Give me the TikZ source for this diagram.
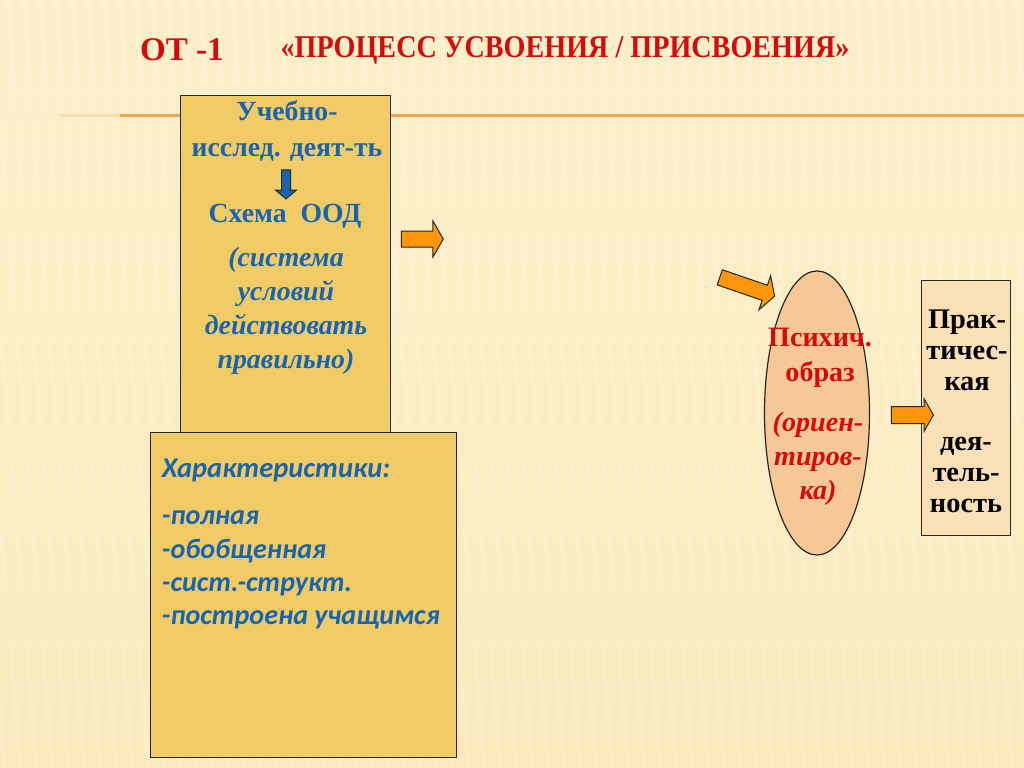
\documentclass[tikz,border=0pt]{standalone}
\usepackage{fontspec}
\setmainfont{Liberation Serif}
\newfontfamily\calfont{Carlito}
\usetikzlibrary{shapes,shapes.arrows}

\definecolor{bgtop}{RGB}{252,239,200}
\definecolor{bgmid}{RGB}{248,226,163}
\definecolor{bgbot}{RGB}{250,234,190}
\definecolor{titlered}{RGB}{215,10,10}
\definecolor{textblue}{RGB}{25,100,175}
\definecolor{boxgold}{RGB}{241,204,102}
\definecolor{boxpeach}{RGB}{250,224,182}
\definecolor{ovalpeach}{RGB}{246,200,150}
\definecolor{arroworange}{RGB}{253,150,10}
\definecolor{lineorange}{RGB}{236,168,70}

\begin{document}
\begin{tikzpicture}[x=0.25mm, y=-0.25mm,
  box/.style={draw=black!85, line width=0.35mm, inner sep=0, anchor=north west},
  block arrow/.style={single arrow, draw=black!85, fill=arroworange, line width=0.25mm, inner xsep=0, single arrow tip angle=120},
  blue text/.style={text=textblue, align=center, font=\bfseries\fontsize{19.7}{25.6}\selectfont},
  red text/.style={text=titlered, align=center, font=\bfseries\fontsize{20}{24.9}\selectfont},
  black text/.style={text=black, align=center, font=\bfseries\fontsize{20.2}{22}\selectfont}]
\useasboundingbox (0,0) rectangle (1024,767);
\shade[top color=bgtop, middle color=bgmid, bottom color=bgbot] (0,0) rectangle (1024,767);
\foreach \s in {-120,-104,...,1100}
  \draw[white, opacity=0.16, line width=1.2mm] (\s,0) .. controls (\s+20,300) and (\s+40,500) .. (\s+60,767);
\draw[lineorange!40, line width=0.75mm] (60,116) -- (120,116);
\draw[lineorange, line width=0.75mm] (120,116) -- (1024,116);

% title
\node[text=titlered, font=\bfseries\fontsize{23.5}{28}\selectfont] (ot) at (182,50) {ОТ -1};
\node[text=titlered, font=\bfseries\fontsize{22.5}{26}\selectfont] (title) at (565,50) {\scalebox{0.89}[1]{«ПРОЦЕСС УСВОЕНИЯ / ПРИСВОЕНИЯ»}};

% left boxes
\node[box, fill=boxgold, minimum width=52.5mm, minimum height=84.25mm] (ood) at (180,95) {};
\node[box, fill=boxgold, minimum width=76.5mm, minimum height=81.25mm] (char) at (150,432) {};
\node[blue text] (uid) at (287,131) {Учебно-\\исслед. деят-ть};
\node[block arrow, fill=textblue, inner ysep=1mm, minimum height=7.25mm, minimum width=5mm, single arrow head extend=1.5mm, single arrow tip angle=100, rotate=-90] (down) at (286,182.5) {};
\node[blue text] (schema) at (285,216) {Схема\ \ ООД};
\node[blue text, font=\bfseries\itshape\fontsize{19.8}{24.2}\selectfont] (cond) at (286,311) {(система\\условий\\действовать\\правильно)};
\node[anchor=west, text=textblue, font=\calfont\bfseries\itshape\fontsize{20.3}{23}\selectfont] (chhead) at (157,470) {Характеристики:};
\node[anchor=west, text=textblue, align=left, font=\calfont\bfseries\itshape\fontsize{20}{23.7}\selectfont] (chlist) at (157,570) {-полная\\-обобщенная\\-сист.-структ.\\-построена учащимся};

% arrows
\node[block arrow, inner ysep=1.875mm, minimum height=10.5mm, minimum width=8.75mm, single arrow head extend=2.5mm] (a1) at (420,239) {};
\node[block arrow, inner ysep=1.875mm, minimum height=14.5mm, minimum width=8.75mm, single arrow head extend=2.5mm, rotate=-19] (a2) at (745,286) {};

% oval
\node[ellipse, draw=black!85, line width=0.3mm, fill=ovalpeach, minimum width=26.25mm, minimum height=71mm, inner sep=0] (image) at (817,413) {};
\node[red text] (psy) at (820,358) {Психич.\\образ};
\node[red text, font=\bfseries\itshape\fontsize{20}{24.2}\selectfont] (orient) at (818,459) {(ориен-\\тиров-\\ка)};

% right box
\node[box, fill=boxpeach, line width=0.3mm, minimum width=22.25mm, minimum height=63.75mm] (prac) at (921,280) {};
\node[black text] (pr1) at (967,350) {Прак-\\тичес-\\кая};
\node[black text] (pr2) at (966,475) {дея-\\тель-\\ность};

\node[block arrow, inner ysep=2mm, minimum height=10.5mm, minimum width=7.75mm, single arrow head extend=1.875mm] (a3) at (910,415) {};
\end{tikzpicture}
\end{document}
